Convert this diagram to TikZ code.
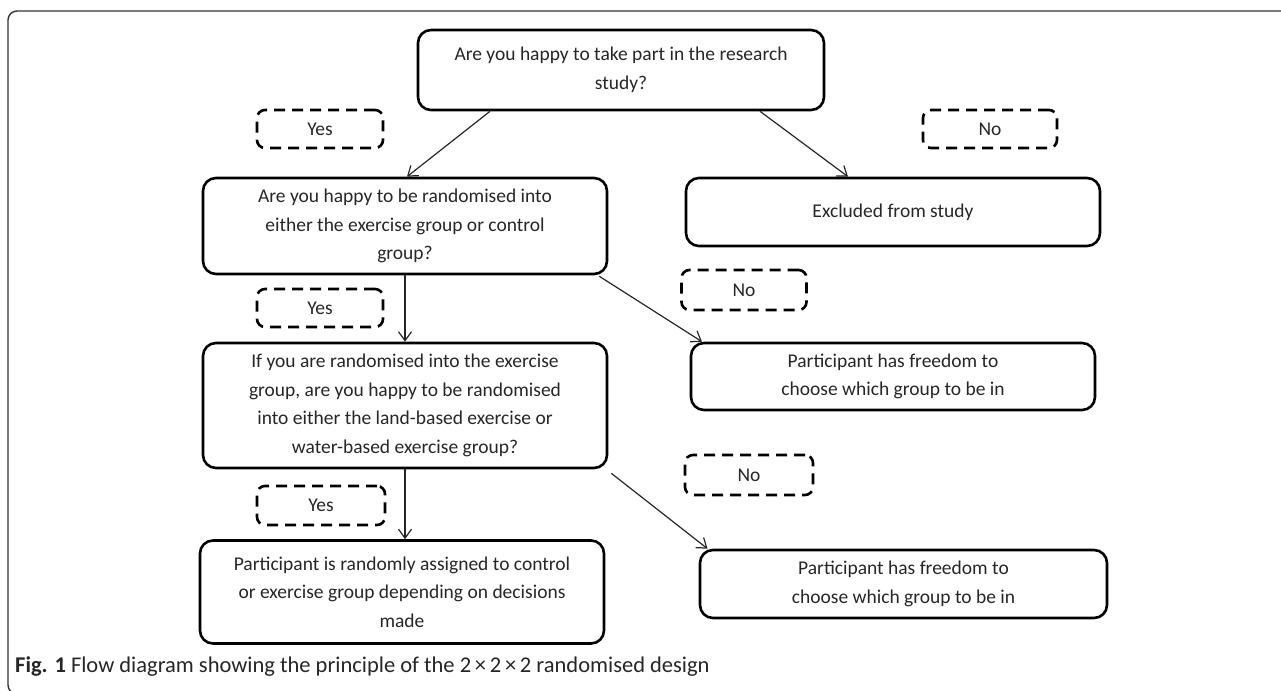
\documentclass[tikz,border=0pt]{standalone}
\usepackage{fontspec}
\setmainfont{Carlito}
\usetikzlibrary{arrows.meta}
\begin{document}
\begin{tikzpicture}[x=1pt,y=-1pt,
  box/.style={draw=black, line width=2.6pt, rounded corners=13pt, align=center,
    font=\fontsize{19.5}{28.5}\selectfont, text=black!85, inner sep=0pt},
  dbox/.style={draw=black, line width=2.6pt, dash pattern=on 11pt off 7pt,
    rounded corners=8pt, font=\fontsize{19.5}{28}\selectfont, text=black!85, inner sep=0pt},
  arr/.style={-{Straight Barb[length=9pt,width=13pt]}, line width=1.2pt, black!85}
]
\useasboundingbox (0,0) rectangle (1281,690);
% frame
\draw[line width=1.4pt, black!80, rounded corners=9pt] (1300,11) -- (8,11) -- (8,694) -- (60,694);

% boxes
\node[box, minimum width=406pt, minimum height=80pt] (q1) at (621,70)
  {Are you happy to take part in the research\\study?};
\node[dbox, minimum width=126pt, minimum height=38pt] (y1) at (320,129) {Yes};
\node[dbox, minimum width=134pt, minimum height=38pt] (n1) at (990,129) {No};
\node[box, minimum width=404pt, minimum height=96pt] (q2) at (405,226)
  {Are you happy to be randomised into\\either the exercise group or control\\group?};
\node[box, minimum width=414pt, minimum height=68pt] (ex) at (893,212) {Excluded from study};
\node[dbox, minimum width=126pt, minimum height=38pt] (y2) at (320,308) {Yes};
\node[dbox, minimum width=125pt, minimum height=40pt] (n2) at (744,290) {No};
\node[box, minimum width=404pt, minimum height=125pt] (q3) at (405,405.5)
  {If you are randomised into the exercise\\group, are you happy to be randomised\\into either the land-based exercise or\\water-based exercise group?};
\node[box, minimum width=404pt, minimum height=67pt] (f1) at (893,376.5)
  {Participant has freedom to\\choose which group to be in};
\node[dbox, minimum width=128pt, minimum height=39pt] (y3) at (321,505.5) {Yes};
\node[dbox, minimum width=128pt, minimum height=40pt] (n3) at (749,475) {No};
\node[box, minimum width=404pt, minimum height=103pt] (pa) at (402,592)
  {Participant is randomly assigned to control\\or exercise group depending on decisions\\made};
\node[box, minimum width=407pt, minimum height=68pt] (f2) at (903.5,584)
  {Participant has freedom to\\choose which group to be in};

% arrows
\draw[arr] ([xshift=-131pt]q1.south) -- ([xshift=2pt]q2.north);
\draw[arr] ([xshift=139pt]q1.south) -- ([xshift=-45pt]ex.north);
\draw[arr] (q2.south) -- (q2.south |- q3.north);
\draw[arr] ([xshift=-9pt,yshift=-1pt]q2.south east) -- ([xshift=-191pt]f1.north);
\draw[arr] (q3.south) -- (q3.south |- pa.north);
\draw[arr] ([xshift=3pt,yshift=-4pt]q3.south east) -- ([xshift=-196pt]f2.north);

% caption
\node[anchor=west, inner sep=0pt, font=\fontsize{22.5}{26}\selectfont, text=black!85] (cap) at (15,667)
  {\textbf{Fig. 1} Flow diagram showing the principle of the 2\,×\,2\,×\,2 randomised design};
\end{tikzpicture}
\end{document}
